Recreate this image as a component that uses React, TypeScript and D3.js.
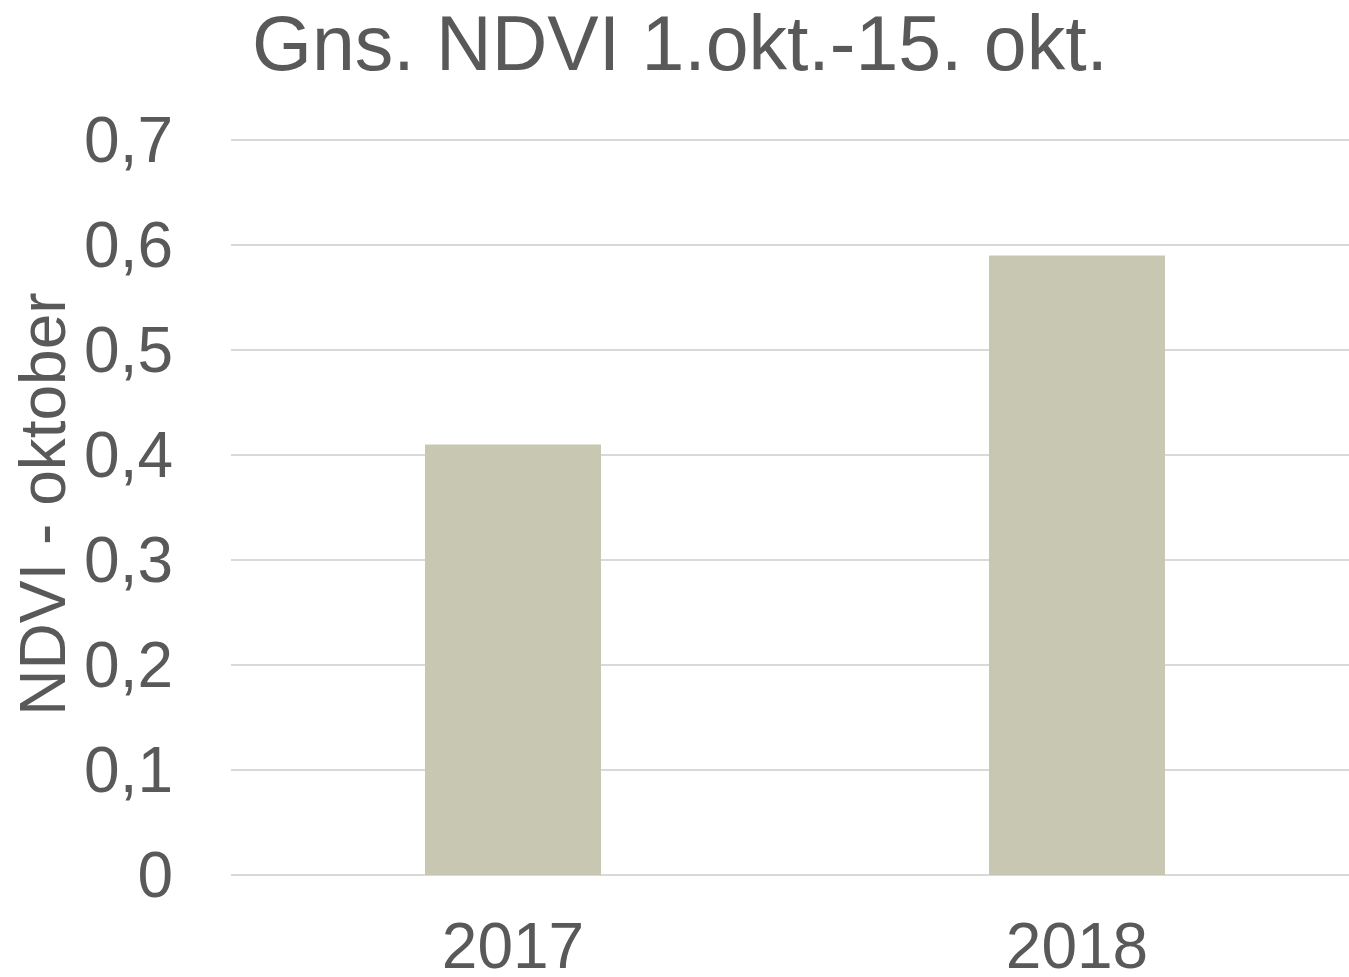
import React, { useEffect, useRef } from "react";
import * as d3 from "d3";

const years = ["2017", "2018"];
const ndvi = [0.41, 0.59];
const yTicks = [0, 0.1, 0.2, 0.3, 0.4, 0.5, 0.6, 0.7];

const width = 1349;
const height = 977;
const margin = { top: 140, right: -10, bottom: 102, left: 231 };
const textColor = "#595959";
const font = "'Liberation Sans', Arial, sans-serif";

export default function App() {
  const ref = useRef<SVGSVGElement>(null);

  useEffect(() => {
    const svg = d3.select(ref.current);
    svg.selectAll("*").remove();

    const x = d3
      .scaleBand()
      .domain(years)
      .range([margin.left, width - margin.right])
      .paddingInner(0.688)
      .paddingOuter(0.344);

    const y = d3
      .scaleLinear()
      .domain([0, 0.7])
      .range([height - margin.bottom, margin.top]);

    // gridlines
    svg
      .append("g")
      .selectAll("line")
      .data(yTicks)
      .join("line")
      .attr("x1", margin.left)
      .attr("x2", width - margin.right)
      .attr("y1", (d) => y(d))
      .attr("y2", (d) => y(d))
      .attr("stroke", "#d9d9d9")
      .attr("stroke-width", 2);

    // bars
    svg
      .append("g")
      .selectAll("rect")
      .data(ndvi)
      .join("rect")
      .attr("x", (_, i) => x(years[i])!)
      .attr("width", x.bandwidth())
      .attr("y", (d) => y(d))
      .attr("height", (d) => y(0) - y(d))
      .attr("fill", "#c8c7b2");

    // y tick labels
    svg
      .append("g")
      .selectAll("text")
      .data(yTicks)
      .join("text")
      .attr("x", 173)
      .attr("y", (d) => y(d))
      .attr("dy", "0.35em")
      .attr("text-anchor", "end")
      .attr("font-family", font)
      .attr("font-size", 64)
      .attr("fill", textColor)
      .text((d) => (d === 0 ? "0" : d3.format(".1f")(d).replace(".", ",")));

    // x labels
    svg
      .append("g")
      .selectAll("text")
      .data(years)
      .join("text")
      .attr("x", (d) => x(d)! + x.bandwidth() / 2)
      .attr("y", 968)
      .attr("text-anchor", "middle")
      .attr("font-family", font)
      .attr("font-size", 64)
      .attr("fill", textColor)
      .text((d) => d);

    // y axis title
    svg
      .append("text")
      .attr("transform", `translate(65, 504) rotate(-90)`)
      .attr("text-anchor", "middle")
      .attr("font-family", font)
      .attr("font-size", 64)
      .attr("fill", textColor)
      .text("NDVI - oktober");

    // chart title
    svg
      .append("text")
      .attr("x", 680)
      .attr("y", 70)
      .attr("text-anchor", "middle")
      .attr("font-family", font)
      .attr("font-size", 77)
      .attr("fill", textColor)
      .text("Gns. NDVI 1.okt.-15. okt.");
  }, []);

  return (
    <div style={{ position: "absolute", left: 0, top: 0 }}>
      <svg ref={ref} width={width} height={height} style={{ display: "block", background: "#fff" }} />
    </div>
  );
}
